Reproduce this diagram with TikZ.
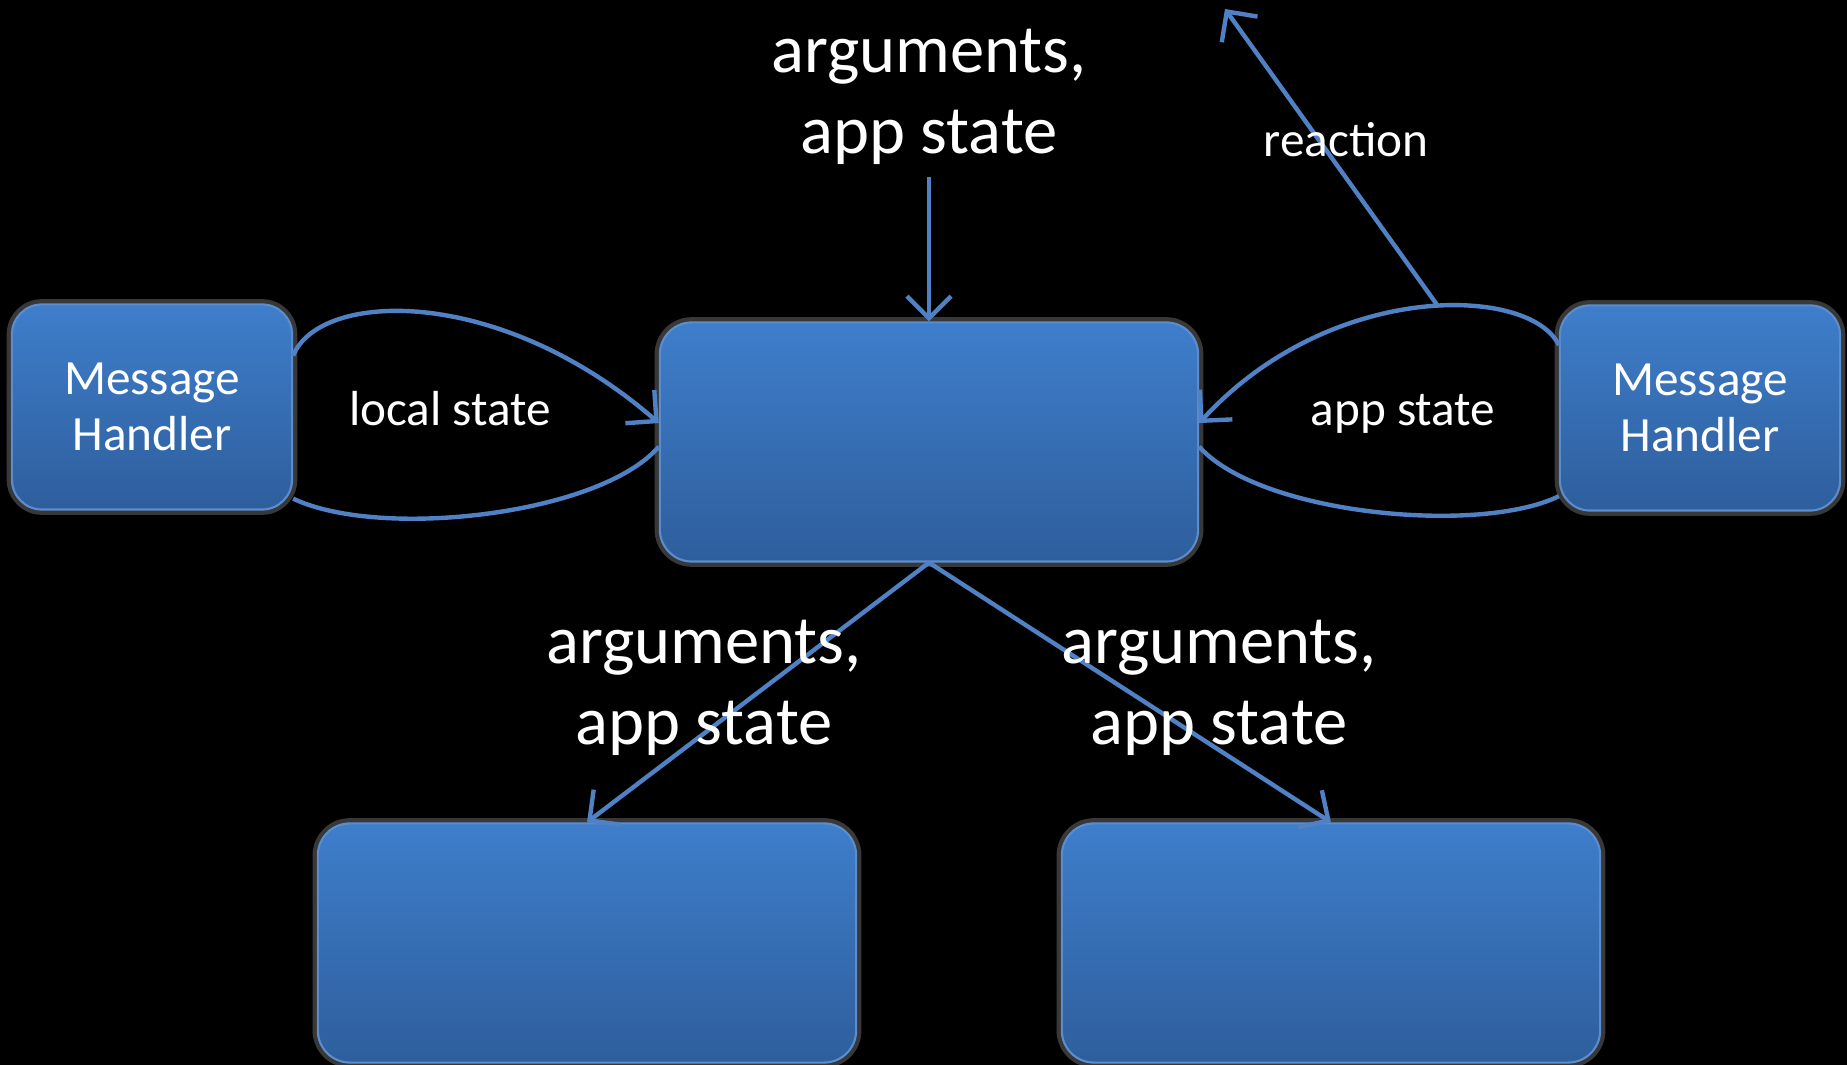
\documentclass[tikz,border=0pt]{standalone}
\usepackage{fontspec}
\setmainfont{Carlito}
\usetikzlibrary{arrows.meta}

\definecolor{boxtop}{RGB}{62,126,203}
\definecolor{boxbot}{RGB}{46,94,156}
\definecolor{boxline}{RGB}{92,140,204}
\definecolor{flow}{RGB}{79,129,196}

\tikzset{
  blockbox/.style={rectangle, rounded corners=0.32cm, draw=boxline, line width=0.6pt,
    top color=boxtop, bottom color=boxbot, minimum width=5.38cm, minimum height=2.39cm,
    preaction={draw=white, opacity=0.22, line width=3pt}},
  handler/.style={blockbox, minimum width=2.8cm, minimum height=2.05cm, rounded corners=0.3cm,
    text=white, font=\fontsize{14}{16}\selectfont, align=center},
  biglbl/.style={text=white, font=\fontsize{19.5}{23}\selectfont, align=center},
  smalllbl/.style={text=white, font=\fontsize{14}{16}\selectfont},
  flowline/.style={draw=flow, line width=1.25pt},
}

\begin{document}
\begin{tikzpicture}[x=0.01cm, y=-0.01cm, >={Straight Barb[length=2.2mm,width=4.4mm]}]
\fill[black] (0,0) rectangle (1847,1065);
\useasboundingbox (0,0) rectangle (1847,1065);

% boxes
\node[blockbox] (main) at (929,442) {};
\node[handler] (lmh) at (152,407) {Message\\Handler};
\node[handler] (rmh) at (1700,408) {Message\\Handler};
\node[blockbox] (subl) at (587,943) {};
\node[blockbox] (subr) at (1331,943) {};

\coordinate (out) at (1225,9);

% local state loop
\draw[flowline,->] (lmh.20) .. controls (320,290) and (500,285) .. (main.176);
\draw[flowline] (main.181) .. controls (600,515) and (380,540) .. (lmh.-33);

% app state loop
\draw[flowline,->] (rmh.156) .. controls (1530,285) and (1330,280) .. coordinate[pos=0.45] (fork) (main.4);
\draw[flowline] (main.-1) .. controls (1260,515) and (1480,535) .. (rmh.212);
\draw[flowline,->] (fork) -- (out);

% arguments in and out
\node[biglbl] (toplbl) at (929,97) {arguments,\\app state};
\draw[flowline,->] (toplbl.south) -- (main.north);
\draw[flowline,->] (main.south) -- (subl.north);
\draw[flowline,->] (main.south) -- (subr.north);

% labels
\node[biglbl] (lbll) at (704,688) {arguments,\\app state};
\node[biglbl] (lblr) at (1219,688) {arguments,\\app state};
\node[smalllbl] (loc) at (450,409) {local state};
\node[smalllbl] (app) at (1403,414) {app state};
\node[smalllbl] (react) at (1346,140) {reaction};
\end{tikzpicture}
\end{document}
